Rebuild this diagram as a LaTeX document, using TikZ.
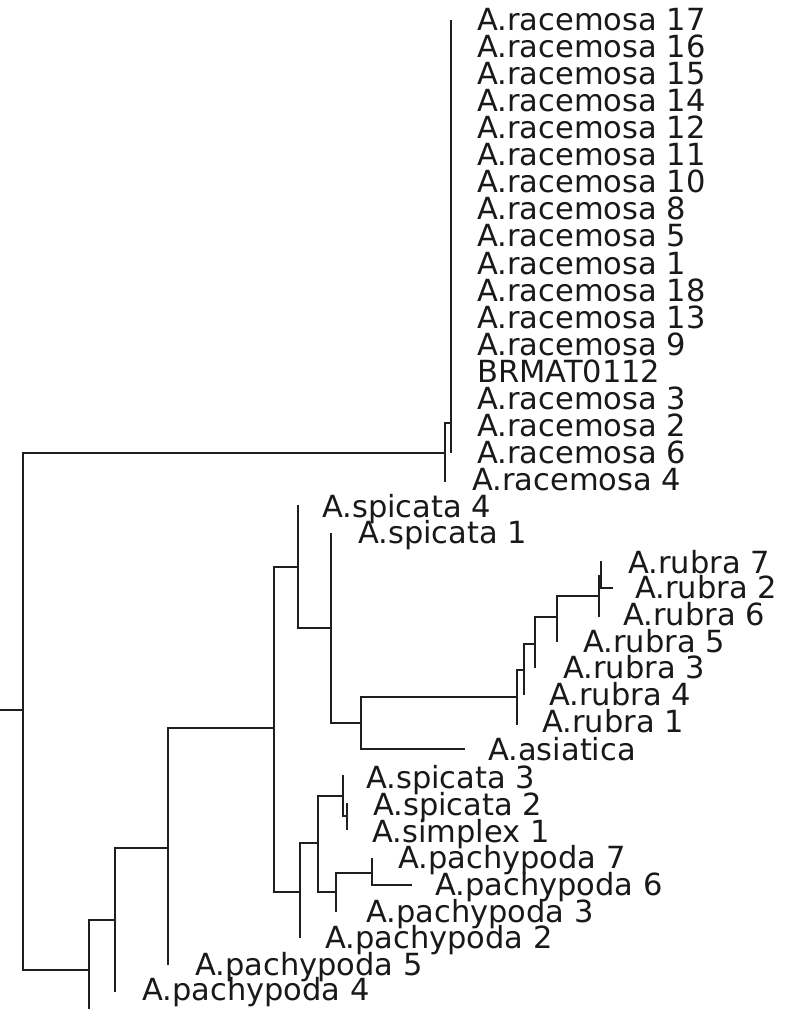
\documentclass[tikz,border=0pt]{standalone}
\usepackage{fontspec}
\setmainfont{DejaVu Sans}
\begin{document}
\begin{tikzpicture}[x=1pt,y=-1pt,
  br/.style={line width=2pt, draw=black!88},
  lab/.style={anchor=base west, inner sep=0pt, font=\fontsize{30.5}{30.5}\selectfont, text=black!90}]
\useasboundingbox (0,0) rectangle (794,1009);
% internal nodes
\coordinate (root0) at (0,710);
\coordinate (A) at (23,710);
\coordinate (Rac) at (445,453);
\coordinate (Rac2) at (451,423);
\coordinate (B) at (89,970);
\coordinate (Bbot) at (89,1009);
\coordinate (C) at (115,920);
\coordinate (D) at (168,848);
\coordinate (E) at (274,728);
\coordinate (F) at (298,567);
\coordinate (H) at (331,628);
\coordinate (I) at (361,723);
\coordinate (J) at (517,697);
\coordinate (K) at (524,670);
\coordinate (L) at (535,644);
\coordinate (M) at (557,617);
\coordinate (N) at (599,596);
\coordinate (N2) at (601,576);
\coordinate (G) at (300,892);
\coordinate (O) at (318,843);
\coordinate (P) at (343,796);
\coordinate (R) at (347,816);
\coordinate (Q) at (336,892);
\coordinate (S) at (372,873);
% tips
\coordinate (rac4) at (445,482);
\coordinate (pach4) at (115,992);
\coordinate (pach5) at (168,965);
\coordinate (spic4) at (298,505);
\coordinate (spic1) at (331,533);
\coordinate (asiat) at (465,749);
\coordinate (rub1) at (517,725);
\coordinate (rub4) at (524,695);
\coordinate (rub3) at (535,668);
\coordinate (rub5) at (557,642);
\coordinate (rub6) at (599,617);
\coordinate (rub7) at (601,561);
\coordinate (rub2) at (613,588);
\coordinate (pach2) at (300,938);
\coordinate (spic3) at (343,775);
\coordinate (spic2) at (347,803);
\coordinate (simp1) at (347,830);
\coordinate (pach3) at (336,912);
\coordinate (pach7) at (372,858);
\coordinate (pach6) at (412,885);
% branches
\draw[br] (root0) -- (A);
\draw[br] (A) |- (Rac);
\draw[br] (A) |- (B);
\draw[br] (Rac) |- (Rac2);
\draw[br] (Rac) |- (rac4);
\draw[br] (B) |- (C);
\draw[br] (B) -- (Bbot);
\draw[br] (C) |- (D);
\draw[br] (C) |- (pach4);
\draw[br] (D) |- (E);
\draw[br] (D) |- (pach5);
\draw[br] (E) |- (F);
\draw[br] (E) |- (G);
\draw[br] (F) |- (spic4);
\draw[br] (F) |- (H);
\draw[br] (H) |- (spic1);
\draw[br] (H) |- (I);
\draw[br] (I) |- (J);
\draw[br] (I) |- (asiat);
\draw[br] (J) |- (K);
\draw[br] (J) |- (rub1);
\draw[br] (K) |- (L);
\draw[br] (K) |- (rub4);
\draw[br] (L) |- (M);
\draw[br] (L) |- (rub3);
\draw[br] (M) |- (N);
\draw[br] (M) |- (rub5);
\draw[br] (N) |- (N2);
\draw[br] (N) |- (rub6);
\draw[br] (N2) |- (rub7);
\draw[br] (N2) |- (rub2);
\draw[br] (G) |- (O);
\draw[br] (G) |- (pach2);
\draw[br] (O) |- (P);
\draw[br] (O) |- (Q);
\draw[br] (P) |- (spic3);
\draw[br] (P) |- (R);
\draw[br] (R) |- (spic2);
\draw[br] (R) |- (simp1);
\draw[br] (Q) |- (S);
\draw[br] (Q) |- (pach3);
\draw[br] (S) |- (pach7);
\draw[br] (S) |- (pach6);
% racemosa tips and labels
\foreach \n/\t [count=\i from 0] in {r17/A.racemosa 17, r16/A.racemosa 16, r15/A.racemosa 15, r14/A.racemosa 14, r12/A.racemosa 12, r11/A.racemosa 11, r10/A.racemosa 10, r8/A.racemosa 8, r5/A.racemosa 5, r1/A.racemosa 1, r18/A.racemosa 18, r13/A.racemosa 13, r9/A.racemosa 9, brm/BRMAT0112, r3/A.racemosa 3, r2/A.racemosa 2, r6/A.racemosa 6}{
  \coordinate (\n) at (451,{20+27.06*\i});
  \draw[br] (Rac2) |- (\n);
  \node[lab] (l\n) at (477,{30.5+27.06*\i}) {\t};
}
\node[lab] (lrac4) at (472,490) {A.racemosa 4};
% other labels
\node[lab] (lspic4) at (322,517) {A.spicata 4};
\node[lab] (lspic1) at (358,543) {A.spicata 1};
\node[lab] (lrub7) at (628,573) {A.rubra 7};
\node[lab] (lrub2) at (635,598) {A.rubra 2};
\node[lab] (lrub6) at (623,625) {A.rubra 6};
\node[lab] (lrub5) at (583,652) {A.rubra 5};
\node[lab] (lrub3) at (563,678) {A.rubra 3};
\node[lab] (lrub4) at (549,705) {A.rubra 4};
\node[lab] (lrub1) at (542,732) {A.rubra 1};
\node[lab] (lasiat) at (488,760) {A.asiatica};
\node[lab] (lspic3) at (366,788) {A.spicata 3};
\node[lab] (lspic2) at (373,815) {A.spicata 2};
\node[lab] (lsimp1) at (372,842) {A.simplex 1};
\node[lab] (lpach7) at (398,868) {A.pachypoda 7};
\node[lab] (lpach6) at (435,895) {A.pachypoda 6};
\node[lab] (lpach3) at (366,922) {A.pachypoda 3};
\node[lab] (lpach2) at (325,948) {A.pachypoda 2};
\node[lab] (lpach5) at (195,975) {A.pachypoda 5};
\node[lab] (lpach4) at (142,1000) {A.pachypoda 4};
\end{tikzpicture}
\end{document}
